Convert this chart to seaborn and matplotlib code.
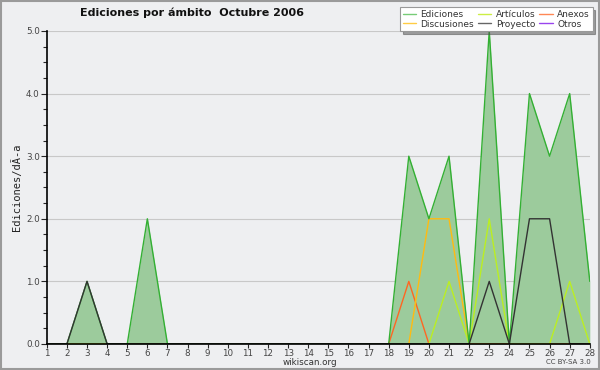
import numpy as np
import pandas as pd
import matplotlib
matplotlib.use("Agg")
import matplotlib.pyplot as plt
import seaborn as sns
from matplotlib.ticker import MultipleLocator

# data: daily edits per namespace, October 2006
days = list(range(1, 29))
ediciones = [0, 0, 1, 0, 0, 2, 0, 0, 0, 0, 0, 0, 0, 0, 0, 0, 0, 0, 3, 2, 3, 0, 5, 0, 4, 3, 4, 1]
articulos = [0, 0, 0, 0, 0, 0, 0, 0, 0, 0, 0, 0, 0, 0, 0, 0, 0, 0, 0, 0, 1, 0, 2, 0, 0, 0, 1, 0]
anexos = [0, 0, 0, 0, 0, 0, 0, 0, 0, 0, 0, 0, 0, 0, 0, 0, 0, 0, 1, 0, 0, 0, 0, 0, 0, 0, 0, 0]
discusiones = [0, 0, 0, 0, 0, 0, 0, 0, 0, 0, 0, 0, 0, 0, 0, 0, 0, 0, 0, 2, 2, 0, 0, 0, 0, 0, 0, 0]
proyecto = [0, 0, 1, 0, 0, 0, 0, 0, 0, 0, 0, 0, 0, 0, 0, 0, 0, 0, 0, 0, 0, 0, 1, 0, 2, 2, 0, 0]
otros = [0] * 28

series = {
    "Ediciones": ediciones,
    "Artículos": articulos,
    "Anexos": anexos,
    "Discusiones": discusiones,
    "Proyecto": proyecto,
    "Otros": otros,
}
colors = {
    "Ediciones": "#33b033",
    "Artículos": "#bbee22",
    "Anexos": "#ff6622",
    "Discusiones": "#ffbb11",
    "Proyecto": "#333333",
    "Otros": "#9933ff",
}
legend_colors = {
    "Ediciones": "#77cc77",
    "Artículos": "#ccee44",
    "Anexos": "#ff8855",
    "Discusiones": "#ffcc44",
    "Proyecto": "#666666",
    "Otros": "#9944ee",
}

df = pd.DataFrame({"day": days, **series})
long = df.melt(id_vars="day", var_name="ambito", value_name="ediciones")

bg = "#eeeff1"
sns.set_style("white")
plt.rcParams["font.family"] = ["DejaVu Sans"]

fig = plt.figure(figsize=(6, 3.7), dpi=100, facecolor=bg)
ax = fig.add_axes([0.078, 0.0703, 0.905, 0.846])
ax.set_facecolor(bg)

# filled area for total edits
ax.fill_between(df["day"], df["Ediciones"], color="#9ccb9c", zorder=1, linewidth=0)

# lines per namespace (zeros are hidden behind the axis)
order = ["Otros", "Anexos", "Discusiones", "Artículos", "Ediciones", "Proyecto"]
for name in order:
    sub = long[long["ambito"] == name]
    sns.lineplot(data=sub, x="day", y="ediciones", color=colors[name], linewidth=1.0,
                 ax=ax, zorder=3, legend=False)

ax.set_xlim(1, 28)
ax.set_ylim(0, 5)
ax.set_xticks(days)
ax.set_xticklabels([str(d) for d in days])
ax.set_yticks([0, 1, 2, 3, 4, 5])
ax.set_yticklabels(["0.0", "1.0", "2.0", "3.0", "4.0", "5.0"])
ax.yaxis.set_minor_locator(MultipleLocator(0.25))
ax.tick_params(axis="both", which="major", labelsize=6.3, labelcolor="#444444",
               length=4, width=0.8, direction="out", pad=1)
ax.tick_params(axis="x", which="major", length=3, pad=0.5)
ax.tick_params(axis="y", which="minor", length=3, width=0.8, direction="out", left=True)
ax.tick_params(axis="x", bottom=True)
ax.tick_params(axis="y", left=True)
ax.grid(axis="y", color="#c8c8c8", linewidth=0.8, zorder=0)
ax.set_axisbelow(True)

for s in ["top", "right"]:
    ax.spines[s].set_visible(False)
for s in ["left", "bottom"]:
    ax.spines[s].set_color("black")
    ax.spines[s].set_linewidth(1.2)
    ax.spines[s].set_zorder(5)

ax.set_xlabel("wikiscan.org", fontsize=6.3, color="#333333")
ax.xaxis.label.set_va("center")
ax.xaxis.set_label_coords(0.484, -0.059)
ax.set_ylabel("Ediciones/dÃ-a", fontsize=7.5, color="#222222", family="DejaVu Sans Mono", labelpad=3)

fig.text(0.32, 0.965, "Ediciones por ámbito  Octubre 2006", ha="center", va="center",
         fontsize=8, fontweight="bold", color="#111111")
fig.text(0.985, 0.022, "CC BY-SA 3.0", ha="right", va="center", fontsize=5, color="#444444")

# legend
handles = [plt.Line2D([], [], color=legend_colors[n], linewidth=1) for n in
           ["Ediciones", "Discusiones", "Artículos", "Proyecto", "Anexos", "Otros"]]
labels = ["Ediciones", "Discusiones", "Artículos", "Proyecto", "Anexos", "Otros"]
leg = ax.legend(handles, labels, ncol=3, loc="upper right", bbox_to_anchor=(1.005, 1.075),
                fontsize=6.5, frameon=True, fancybox=False, shadow=True, handlelength=1.5,
                handletextpad=0.5, columnspacing=0.4, labelspacing=0.05, borderpad=0.3,
                borderaxespad=0)
leg.get_frame().set_edgecolor("#999999")
leg.get_frame().set_linewidth(0.8)
for t in leg.get_texts():
    t.set_color("#333333")

# outer border
fig.patches.append(plt.Rectangle((0.001, 0.002), 0.997, 0.995, transform=fig.transFigure,
                                 fill=False, edgecolor="#9a9a9a", linewidth=1.5))

fig.savefig("out.png", dpi=100, facecolor=bg)
